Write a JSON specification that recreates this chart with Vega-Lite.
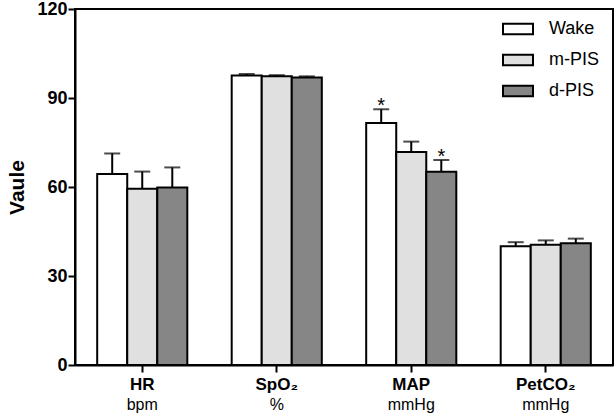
{
  "$schema": "https://vega.github.io/schema/vega-lite/v6.json",
  "width": 538,
  "height": 356,
  "autosize": {"type": "none"},
  "padding": {"left": 75, "top": 9, "right": 2, "bottom": 54},
  "background": "white",
  "data": {
    "values": [
      {"metric": "HR", "condition": "Wake", "value": 64.4, "upper": 71.3, "sig": ""},
      {"metric": "HR", "condition": "m-PIS", "value": 59.4, "upper": 65.2, "sig": ""},
      {"metric": "HR", "condition": "d-PIS", "value": 59.8, "upper": 66.6, "sig": ""},
      {"metric": "SpO₂", "condition": "Wake", "value": 97.6, "upper": 98.1, "sig": ""},
      {"metric": "SpO₂", "condition": "m-PIS", "value": 97.3, "upper": 97.7, "sig": ""},
      {"metric": "SpO₂", "condition": "d-PIS", "value": 96.9, "upper": 97.3, "sig": ""},
      {"metric": "MAP", "condition": "Wake", "value": 81.6, "upper": 86.2, "sig": "*"},
      {"metric": "MAP", "condition": "m-PIS", "value": 71.8, "upper": 75.3, "sig": ""},
      {"metric": "MAP", "condition": "d-PIS", "value": 65.1, "upper": 69.1, "sig": "*"},
      {"metric": "PetCO₂", "condition": "Wake", "value": 40.0, "upper": 41.4, "sig": ""},
      {"metric": "PetCO₂", "condition": "m-PIS", "value": 40.5, "upper": 42.0, "sig": ""},
      {"metric": "PetCO₂", "condition": "d-PIS", "value": 41.0, "upper": 42.6, "sig": ""}
    ]
  },
  "encoding": {
    "x": {
      "field": "metric",
      "type": "nominal",
      "sort": ["HR", "SpO₂", "MAP", "PetCO₂"],
      "scale": {"paddingInner": 0.33, "paddingOuter": 0.165}
    },
    "xOffset": {
      "field": "condition",
      "type": "nominal",
      "sort": ["Wake", "m-PIS", "d-PIS"],
      "scale": {"paddingInner": 0, "paddingOuter": 0}
    }
  },
  "layer": [
    {
      "mark": {"type": "bar", "stroke": "black", "strokeWidth": 2, "strokeOpacity": 1},
      "encoding": {
        "x": {
          "field": "metric",
          "type": "nominal",
          "sort": ["HR", "SpO₂", "MAP", "PetCO₂"],
          "axis": {
            "title": null,
            "labelAngle": 0,
            "labelFontWeight": "bold",
            "labelFontSize": 17,
            "labelPadding": 4,
            "labelBaseline": "top"
          }
        },
        "y": {
          "field": "value",
          "type": "quantitative",
          "scale": {"domain": [0, 120], "nice": false},
          "axis": {
            "title": "Vaule",
            "titleFontSize": 21,
            "titleFontWeight": "bold",
            "titlePadding": 9,
            "values": [0, 30, 60, 90, 120],
            "labelFontWeight": "bold",
            "labelFontSize": 18,
            "labelPadding": 1,
            "grid": false
          }
        },
        "fill": {
          "field": "condition",
          "type": "nominal",
          "sort": ["Wake", "m-PIS", "d-PIS"],
          "scale": {"domain": ["Wake", "m-PIS", "d-PIS"], "range": ["#ffffff", "#e0e0e0", "#868686"]},
          "legend": {
            "title": null,
            "orient": "none",
            "legendX": 427,
            "legendY": 4,
            "padding": 0,
            "symbolType": "M-1,-0.35H1V0.35H-1Z",
            "symbolSize": 900,
            "symbolStrokeColor": "black",
            "symbolStrokeWidth": 2,
            "symbolOpacity": 1,
            "labelFontSize": 18,
            "labelColor": "black",
            "labelOffset": 15,
            "rowPadding": 5
          }
        }
      }
    },
    {
      "mark": {"type": "rule", "color": "black", "strokeWidth": 2},
      "encoding": {
        "x": {
          "field": "metric",
          "type": "nominal",
          "sort": ["HR", "SpO₂", "MAP", "PetCO₂"],
          "axis": {
            "title": null,
            "orient": "bottom",
            "labelAngle": 0,
            "labelFontWeight": "normal",
            "labelFontSize": 16,
            "labelPadding": 31,
            "labelBaseline": "top",
            "domain": false,
            "ticks": false,
            "labelExpr": "datum.value == 'HR' ? 'bpm' : datum.value == 'MAP' ? 'mmHg' : datum.value == 'PetCO₂' ? 'mmHg' : '%'"
          }
        },
        "y": {"field": "value", "type": "quantitative"},
        "y2": {"field": "upper"}
      }
    },
    {
      "mark": {"type": "tick", "color": "black", "thickness": 2, "size": 16},
      "encoding": {
        "x": {"field": "metric", "type": "nominal", "sort": ["HR", "SpO₂", "MAP", "PetCO₂"], "axis": null},
        "y": {"field": "upper", "type": "quantitative"}
      }
    },
    {
      "mark": {"type": "text", "color": "black", "fontSize": 20, "baseline": "alphabetic", "dy": 3},
      "encoding": {
        "x": {"field": "metric", "type": "nominal", "sort": ["HR", "SpO₂", "MAP", "PetCO₂"], "axis": null},
        "y": {"field": "upper", "type": "quantitative"},
        "text": {"field": "sig"}
      }
    }
  ],
  "resolve": {"axis": {"x": "independent"}},
  "config": {
    "font": "Liberation Sans",
    "view": {"stroke": "black", "strokeWidth": 2},
    "axis": {
      "domainColor": "black",
      "domainWidth": 2,
      "tickColor": "black",
      "tickWidth": 2,
      "tickSize": 7,
      "labelColor": "black",
      "titleColor": "black",
      "labelFont": "Liberation Sans",
      "titleFont": "Liberation Sans"
    },
    "legend": {"labelFont": "Liberation Sans"}
  }
}
